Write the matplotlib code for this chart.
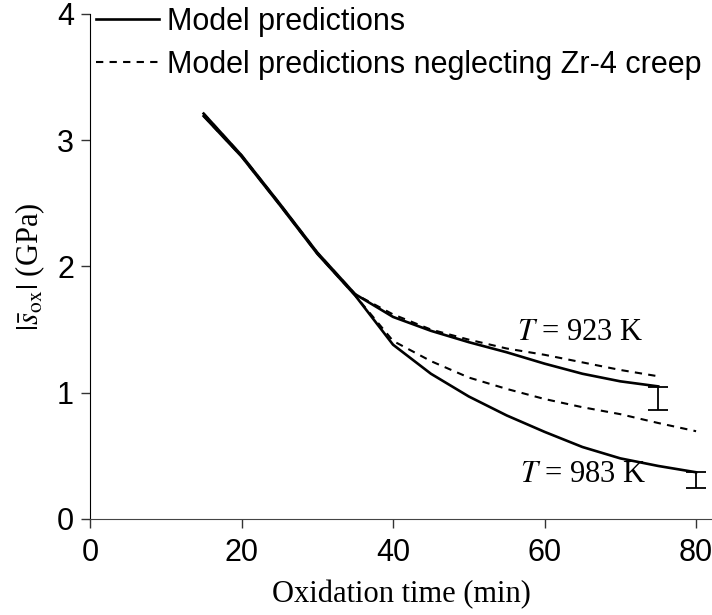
'''Oxide stress vs oxidation time, model predictions at two temperatures.'''

import matplotlib
matplotlib.use('Agg')
import matplotlib.pyplot as plt

plt.rcParams['mathtext.fontset'] = 'stix'

# time (min) and |s_ox| (GPa)
t_923 = [15, 20, 25, 30, 35, 40, 45, 50, 55, 60, 65, 70, 75]
s_923 = [3.21, 2.88, 2.50, 2.11, 1.78, 1.60, 1.49, 1.40, 1.32, 1.23, 1.15, 1.09, 1.05]
s_923_nocreep = [3.21, 2.88, 2.50, 2.11, 1.78, 1.62, 1.50, 1.42, 1.35, 1.30, 1.24, 1.18, 1.13]

t_983 = [15, 20, 25, 30, 35, 40, 45, 50, 55, 60, 65, 70, 75, 80]
s_983 = [3.19, 2.87, 2.49, 2.10, 1.77, 1.38, 1.15, 0.97, 0.82, 0.69, 0.57, 0.48, 0.42, 0.37]
s_983_nocreep = [3.19, 2.87, 2.49, 2.10, 1.77, 1.41, 1.25, 1.12, 1.03, 0.95, 0.885, 0.83, 0.76, 0.695]

# experimental error bars (x, centre, half range)
err_t = [75, 80]
err_mid = [0.955, 0.31]
err_half = [0.093, 0.066]

fig = plt.figure(figsize=(7.12, 6.15), dpi=100)
ax = fig.add_axes([90/712, 1 - 519/615, 622/712, 505.2/615])

ax.plot(t_923, s_923, '-', c='black', lw=1.9, label='Model predictions')
ax.plot(t_923, s_923_nocreep, c='black', lw=1.5, ls=(0, (3.5, 3)),
        label='Model predictions neglecting Zr-4 creep')
ax.plot(t_983, s_983, '-', c='black', lw=1.9)
ax.plot(t_983, s_983_nocreep, c='black', lw=1.5, ls=(0, (3.5, 3)))
ax.errorbar(err_t, err_mid, yerr=err_half, fmt='none', ecolor='black',
            elinewidth=1.3, capsize=7, capthick=1.3)

ax.text(56.3, 1.48, r'$T$ = 923 K', fontsize=22, family='Liberation Serif',
        va='center', ha='left')
ax.text(56.8, 0.35, r'$T$ = 983 K', fontsize=22, family='Liberation Serif',
        va='center', ha='left')

ax.set_xlim(0, 82.1)
ax.set_ylim(0, 4)
ax.set_xticks([0, 20, 40, 60, 80])
ax.set_yticks([0, 1, 2, 3, 4])
for side in ('top', 'right'):
    ax.spines[side].set_visible(False)
ax.spines['left'].set_color('black')
ax.spines['bottom'].set_color('#444444')
ax.tick_params(direction='out', length=6.5, width=1, labelsize=22,
               colors='#333333', labelcolor='black', pad=5)
ax.tick_params(axis='x', pad=7)
for lab in ax.get_xticklabels() + ax.get_yticklabels():
    lab.set_family('Liberation Sans')

ax.set_xlabel('Oxidation time (min)', fontsize=22, family='Liberation Serif',
              labelpad=9)
ax.set_ylabel(r'$|\bar{s}_{\mathrm{ox}}|$ (GPa)', fontsize=22,
              family='Liberation Serif', labelpad=7)

ax.legend(loc='upper left', bbox_to_anchor=(96/712, 1 - 7/615),
          bbox_transform=fig.transFigure, frameon=False, handlelength=2.05,
          handletextpad=0.26, labelspacing=0.42, borderpad=0, borderaxespad=0,
          prop={'family': 'Liberation Sans', 'size': 22})

fig.savefig('out.png', dpi=100)
